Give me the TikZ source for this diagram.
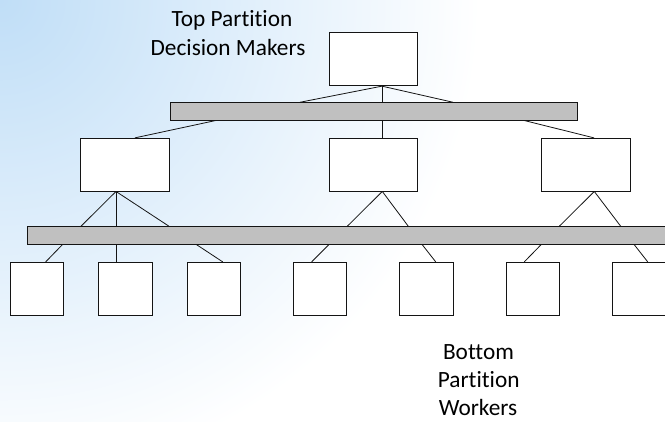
\documentclass[tikz,border=0pt]{standalone}
\usepackage{fontspec}
\setmainfont{Carlito}[Ligatures=NoCommon]
\usetikzlibrary{calc}
\definecolor{bargray}{RGB}{192,192,192}
\definecolor{bgblue}{RGB}{192,222,247}
\definecolor{linegray}{RGB}{20,20,20}
\newcommand\hconn[4]{\draw[conn] ($(#1.south west)!(#2,0)!(#1.south east)$) -- ($(#3.north west)!(#4,0)!(#3.north east)$);}
\begin{document}
\begin{tikzpicture}[x=1pt,y=-1pt,
  box/.style={draw=linegray, line width=0.9pt, fill=white, inner sep=0pt, minimum width=88pt, minimum height=53.4pt},
  smallbox/.style={draw=linegray, line width=0.9pt, fill=white, inner sep=0pt, minimum width=53.3pt, minimum height=52.7pt},
  bar/.style={draw=linegray, line width=0.9pt, fill=bargray, inner sep=0pt},
  conn/.style={draw=linegray, line width=0.8pt},
  lbl/.style={inner sep=0pt, anchor=base, font=\fontsize{23.3}{28}\selectfont}]
\useasboundingbox (0,0) rectangle (665,421);
\clip (0,0) rectangle (665,421);
\fill[white] (0,0) rectangle (665,421);
\shade[inner color=bgblue, outer color=white] (0,0) circle[radius=480];

% top level
\node[box] (T) at (373.5,59) {};
\node[bar, minimum width=407pt, minimum height=17.3pt] (bar1) at (373.5,111.35) {};

% middle level
\node[box, minimum width=88.6pt, minimum height=52.7pt] (M1) at (125,164.65) {};
\node[box, minimum height=52.7pt] (M2) at (373.35,164.65) {};
\node[box, minimum width=88.6pt, minimum height=52.7pt] (M3) at (586,164.65) {};
\node[bar, minimum width=652.7pt, minimum height=17.6pt] (bar2) at (353.65,235.5) {};

% bottom level
\node[smallbox] (B1) at (36.65,288.65) {};
\node[smallbox] (B2) at (125.5,288.65) {};
\node[smallbox] (B3) at (214.2,288.65) {};
\node[smallbox] (B4) at (320.15,288.65) {};
\node[smallbox] (B5) at (426.3,288.65) {};
\node[smallbox] (B6) at (532.65,288.65) {};
\node[smallbox] (B7) at (639.35,288.65) {};

% connectors top -> bar1
\hconn{T}{382}{bar1}{300}
\hconn{T}{382}{bar1}{382}
\hconn{T}{382}{bar1}{453}
% bar1 -> middle
\hconn{bar1}{216}{M1}{135}
\hconn{bar1}{382}{M2}{382}
\hconn{bar1}{524}{M3}{594}
% middle -> bar2
\hconn{M1}{116}{bar2}{81}
\hconn{M1}{116}{bar2}{116}
\hconn{M1}{116}{bar2}{169}
\hconn{M2}{382.3}{bar2}{347.3}
\hconn{M2}{382.3}{bar2}{408.3}
\hconn{M3}{594.3}{bar2}{559.3}
\hconn{M3}{594.3}{bar2}{620.7}
% bar2 -> bottom
\hconn{bar2}{62.3}{B1}{45.7}
\hconn{bar2}{116}{B2}{116}
\hconn{bar2}{196.7}{B3}{222.7}
\hconn{bar2}{328.7}{B4}{311.7}
\hconn{bar2}{422.3}{B5}{435.7}
\hconn{bar2}{541}{B6}{524.3}
\hconn{bar2}{634.3}{B7}{647.7}

% labels
\node[lbl] (tl1) at (232,26.7) {Top Partition};
\node[lbl] (tl2) at (228,55) {Decision Makers};
\node[lbl] (bl1) at (478.5,359.3) {Bottom};
\node[lbl] (bl2) at (478.7,387.3) {Partition};
\node[lbl] (bl3) at (478,415) {Workers};
\end{tikzpicture}
\end{document}
